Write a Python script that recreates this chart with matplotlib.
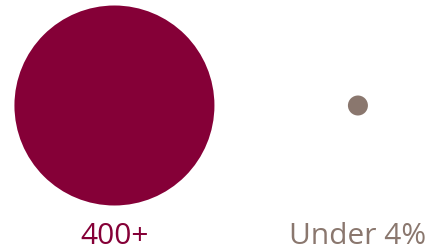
import matplotlib.pyplot as plt
import numpy as np

labels = ["400+", "Under 4%"]
values = [400, 4]
colors = ["#850037", "#8a776e"]

fig = plt.figure(figsize=(4.39, 2.5), dpi=100)
ax = fig.add_axes([0, 0, 1, 1])
ax.set_xlim(-0.470, 1.333)
ax.set_ylim(-144.5, 105.5)
ax.axis("off")

# bubble area proportional to value
scale = 51.84
x = np.arange(len(values))
ax.scatter(x, np.zeros(len(values)), s=np.array(values) * scale, c=colors,
           linewidths=0)

for i, (lab, col) in enumerate(zip(labels, colors)):
    ax.annotate(lab, (x[i], 0), xytext=(0, -99.4), textcoords="offset points",
                ha="center", va="baseline", color=col, fontsize=21.5,
                family="Open Sans")

fig.savefig("out.png", dpi=100)
